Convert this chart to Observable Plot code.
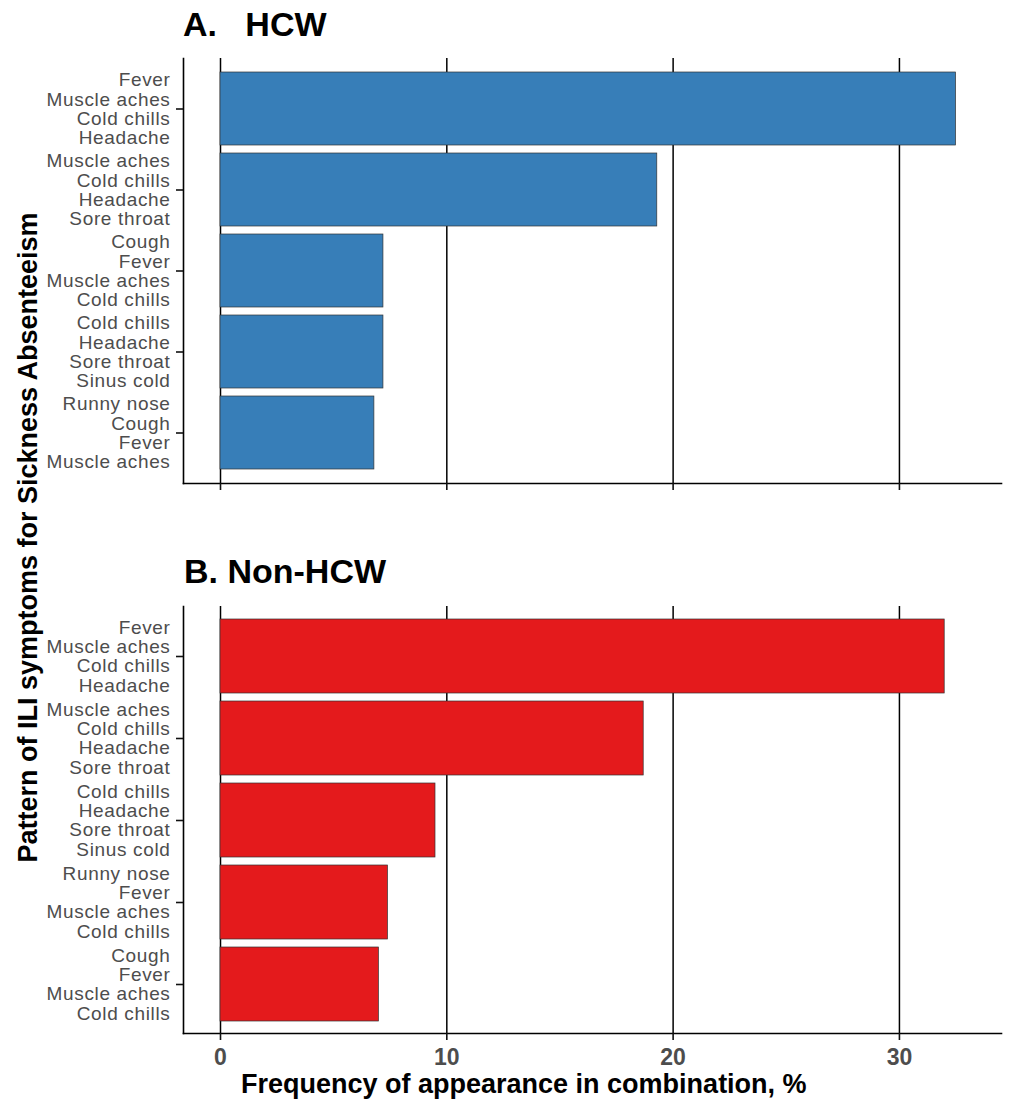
<!DOCTYPE html>
<html>
<head>
<meta charset="utf-8">
<script src="https://cdn.jsdelivr.net/npm/d3@7"></script>
<script src="https://cdn.jsdelivr.net/npm/@observablehq/plot@0.6"></script>
<style>
  html, body { margin: 0; padding: 0; background: white; }
  #chart { position: relative; width: 1011px; height: 1101px; font-family: "Liberation Sans", Arial, sans-serif; background: white; }
  .ttl { position: absolute; font-weight: bold; color: #000; white-space: pre; font-size: 34px; line-height: 34px; z-index: 2; }
  #ylab { position: absolute; font-weight: bold; font-size: 27px; line-height: 27px; color: #000; white-space: nowrap;
          transform-origin: center center; z-index: 2; }
  #xlab { position: absolute; font-weight: bold; font-size: 27px; line-height: 27px; color: #000; white-space: nowrap; text-align: center; z-index: 2; }
  .pl { position: absolute; left: 0; z-index: 1; }
  svg g[aria-label="y-axis tick label"] text { letter-spacing: 0.65px; }
</style>
</head>
<body>
<div id="chart">
  <div class="ttl" id="tA" style="left:183px; top:7px;"></div>
  <div class="ttl" id="tB" style="left:184px; top:554px;"></div>
  <div id="ylab"></div>
  <div class="pl" id="pA" style="top:50px;"></div>
  <div class="pl" id="pB" style="top:598px;"></div>
  <div id="xlab"></div>
</div>
<script>
// ---- data ----
const panelTitles = ["A.   HCW", "B. Non-HCW"];
const hcwPatterns = [
  "Fever\nMuscle aches\nCold chills\nHeadache",
  "Muscle aches\nCold chills\nHeadache\nSore throat",
  "Cough\nFever\nMuscle aches\nCold chills",
  "Cold chills\nHeadache\nSore throat\nSinus cold",
  "Runny nose\nCough\nFever\nMuscle aches"
];
const hcwValues = [32.5, 19.3, 7.2, 7.2, 6.8];
const nonHcwPatterns = [
  "Fever\nMuscle aches\nCold chills\nHeadache",
  "Muscle aches\nCold chills\nHeadache\nSore throat",
  "Cold chills\nHeadache\nSore throat\nSinus cold",
  "Runny nose\nFever\nMuscle aches\nCold chills",
  "Cough\nFever\nMuscle aches\nCold chills"
];
const nonHcwValues = [32.0, 18.7, 9.5, 7.4, 7.0];
const xTicks = [0, 10, 20, 30];
const colors = ["#377EB8", "#E41A1C"];
const yTitle = "Pattern of ILI symptoms for Sickness Absenteeism";
const xTitle = "Frequency of appearance in combination, %";

// ---- titles ----
document.getElementById("tA").textContent = panelTitles[0];
document.getElementById("tB").textContent = panelTitles[1];
const ylab = document.getElementById("ylab");
ylab.textContent = yTitle;
const xlab = document.getElementById("xlab");
xlab.textContent = xTitle;

function panel(patterns, values, color, bottom) {
  const data = patterns.map((p, i) => ({label: p, value: values[i]}));
  const areaH = bottom ? 427 : 425;
  const mb = bottom ? 42 : 12;
  return Plot.plot({
    width: 1011,
    height: 8 + areaH + mb,
    marginTop: 8,
    marginBottom: mb,
    marginLeft: 183,
    marginRight: 10,
    style: {fontFamily: "'Liberation Sans', Arial, sans-serif", background: "transparent", overflow: "visible"},
    x: {domain: [-1.635, 34.51]},
    y: {domain: patterns, paddingInner: 0.1, paddingOuter: 0.15},
    marks: [
      Plot.ruleX(xTicks, {stroke: "#000", strokeWidth: 1.5}),
      Plot.barX(data, {x: "value", y: "label", fill: color, stroke: "#333", strokeWidth: 0.7}),
      Plot.frame({anchor: "left", stroke: "#000", strokeWidth: 1.6}),
      Plot.frame({anchor: "bottom", stroke: "#000", strokeWidth: 1.6}),
      Plot.axisY({tickSize: 7, tickPadding: 6, label: null, fontSize: 19, lineHeight: 1.016,
                  stroke: "#111", strokeWidth: 1.6, fill: "#4d4d4d"}),
      Plot.axisX({ticks: xTicks, tickSize: 7, tickPadding: 8, label: null,
                  tickFormat: bottom ? (d => String(d)) : (() => ""),
                  fontSize: 23, fontWeight: "bold", stroke: "#111", strokeWidth: 1.6, fill: "#4d4d4d"})
    ]
  });
}

document.getElementById("pA").appendChild(panel(hcwPatterns, hcwValues, colors[0], false));
document.getElementById("pB").appendChild(panel(nonHcwPatterns, nonHcwValues, colors[1], true));

// position y title (rotated) centred at x=28, y=537
const w = ylab.offsetWidth, h = ylab.offsetHeight;
ylab.style.left = (28 - w / 2) + "px";
ylab.style.top = (537 - h / 2) + "px";
ylab.style.transform = "rotate(-90deg)";
// x title centred at x=524
const xw = xlab.offsetWidth;
xlab.style.left = (524 - xw / 2) + "px";
xlab.style.top = "1071px";
</script>
</body>
</html>
